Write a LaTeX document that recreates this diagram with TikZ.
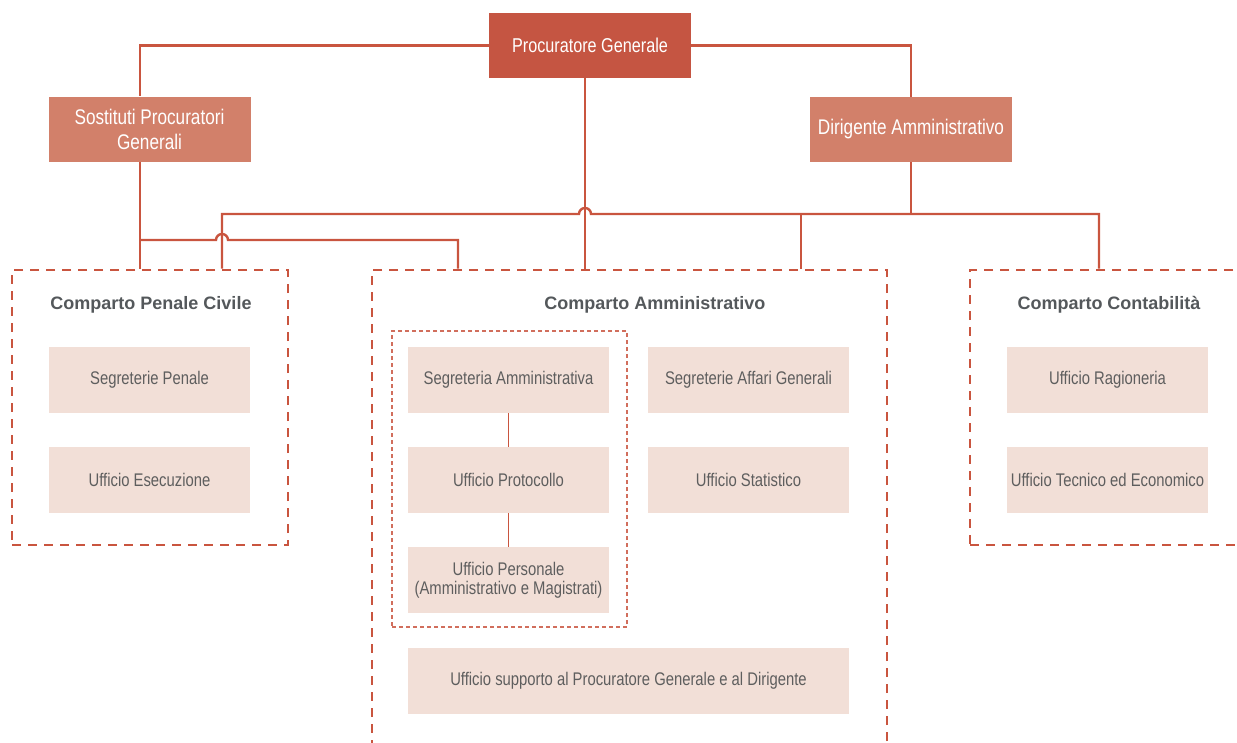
\documentclass[tikz,border=0pt]{standalone}
\usepackage{fontspec}
\setmainfont{Liberation Sans}[FakeStretch=0.81]
\newfontfamily\titlefont{Liberation Sans}
\usepackage{xcolor}
\usetikzlibrary{positioning}
\definecolor{pgred}{HTML}{C55542}
\definecolor{subred}{HTML}{D2806A}
\definecolor{linered}{HTML}{C9553F}
\definecolor{pinkbox}{HTML}{F2DFD7}
\definecolor{boxtext}{HTML}{5E5E5E}
\definecolor{titlegray}{HTML}{54585B}

\begin{document}
\begin{tikzpicture}[x=1pt,y=1pt,
    topbox/.style={fill=pgred,text=white,minimum width=202pt,minimum height=65pt,inner sep=0pt,align=center,font=\fontsize{20}{24}\selectfont},
    subbox/.style={topbox,fill=subred,font=\fontsize{21.2}{25}\selectfont},
    office/.style={fill=pinkbox,text=boxtext,minimum width=201pt,minimum height=66pt,inner sep=0pt,align=center,font=\fontsize{18.3}{19}\selectfont},
    comparto/.style={draw=linered,line width=2.8pt,dash pattern=on 9pt off 7pt,inner sep=0pt},
    gruppo/.style={draw=linered!85,line width=1.4pt,dash pattern=on 4pt off 3pt,inner sep=0pt},
    title/.style={text=titlegray,font=\titlefont\bfseries\fontsize{18}{22}\selectfont},
    link/.style={draw=linered,line width=2.4pt},
    thinlink/.style={draw=linered,line width=1.3pt}]

    \useasboundingbox (0,0) rectangle (1237,-742);
    \clip (0,0) rectangle (1237,-742);

    %Top
    \node[topbox] (pg) at (590,-45.5) {Procuratore Generale};
    \node[subbox] (sost) at (149.5,-129) {Sostituti Procuratori\\Generali};
    \node[subbox] (dir) at (911,-129.5) {Dirigente Amministrativo};

    % Comparti
    \node[comparto,minimum width=276pt,minimum height=275pt] (penale) at (150,-407.5) {};
    \node[comparto,minimum width=515pt,minimum height=500pt] (ammin) at (629.5,-520) {};
    \node[comparto,minimum width=290pt,minimum height=275pt] (contab) at (1115,-407.5) {};
    \node[gruppo,minimum width=235pt,minimum height=296pt] (segr) at (509.5,-479) {};

    \node[title] (tpenale) at (151,-305) {Comparto Penale Civile};
    \node[title] (tammin) at (655,-305) {Comparto Amministrativo};
    \node[title] (tcontab) at (1109,-305) {Comparto Contabilità};

    % Uffici
    \node[office] (segpen) at (149.5,-380) {Segreterie Penale};
    \node[office] (esec) at (149.5,-480) {Ufficio Esecuzione};
    \node[office] (segamm) at (508.5,-380) {Segreteria Amministrativa};
    \node[office] (prot) at (508.5,-480) {Ufficio Protocollo};
    \node[office] (pers) at (508.5,-580) {Ufficio Personale\\(Amministrativo e Magistrati)};
    \node[office] (affari) at (748.5,-380) {Segreterie Affari Generali};
    \node[office] (stat) at (748.5,-480) {Ufficio Statistico};
    \node[office,minimum width=441pt] (supp) at (628.5,-681) {Ufficio supporto al Procuratore Generale e al Dirigente};
    \node[office] (ragion) at (1107.5,-380) {Ufficio Ragioneria};
    \node[office] (tecn) at (1107.5,-480) {Ufficio Tecnico ed Economico};

    % Bus points
    \coordinate (sostdown) at ([xshift=-9.5pt]sost.south);
    \coordinate (pgdown) at ([xshift=-5pt]pg.south);
    \coordinate (busl) at (222,-214);
    \coordinate (busr) at (1099,-214);
    \coordinate (busm) at (801,-214);
    \coordinate (sostbus) at (140,-240);
    \coordinate (sostend) at (458,-240);

    % Connectors
    \draw[link] (pg.west) -| (sostdown |- sost.north);
    \draw[link] (pg.east) -| (dir.north);
    \draw[link] (sostdown) -- (sostdown |- penale.north);
    \draw[link] (pgdown) -- (pgdown |- ammin.north);
    \draw[link] (dir.south) -- (dir.south |- busm);
    \draw[link] (busl |- penale.north) -- (busl) -- (579,-214) arc[start angle=180,end angle=0,radius=6] -- (busr) -- (busr |- contab.north);
    \draw[link] (busm) -- (busm |- ammin.north);
    \draw[link] (sostbus) -- (216,-240) arc[start angle=180,end angle=0,radius=6] -- (sostend) -- (sostend |- ammin.north);
    \draw[thinlink] (segamm) -- (prot) -- (pers);
\end{tikzpicture}
\end{document}
